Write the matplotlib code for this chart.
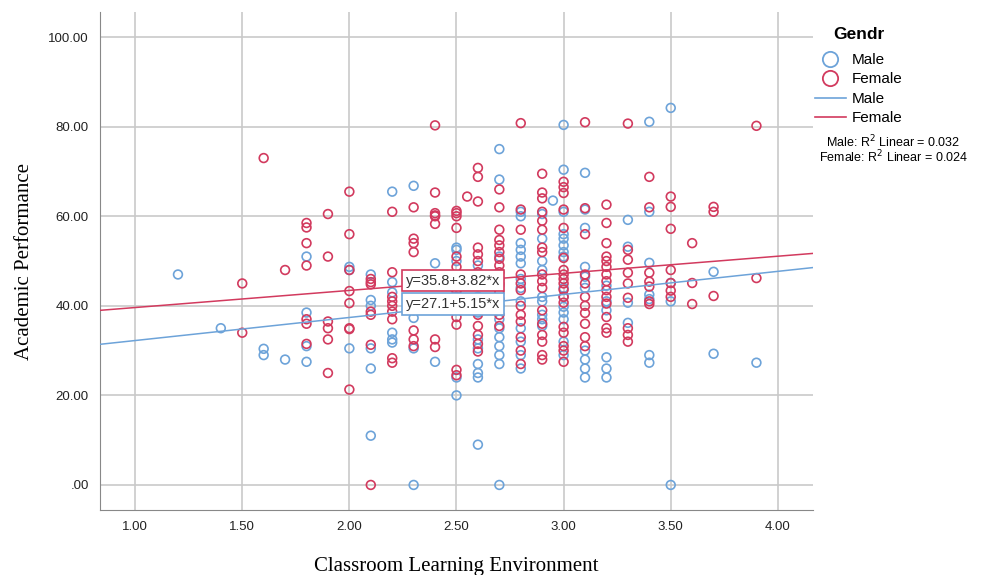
"""Academic performance vs classroom learning environment, split by gender (SPSS style)."""
import matplotlib
matplotlib.use("Agg")
import matplotlib.pyplot as plt
from matplotlib.lines import Line2D

MALE_C = "#6da3d9"
FEMALE_C = "#d23a5e"
GRID_C = "#c9c9c9"

# observed scores per CLE value
male_cols = {
    1.2: [47], 1.4: [35], 1.6: [30.4, 29], 1.7: [28],
    1.8: [51, 38.5, 31, 27.5],
    2.0: [48.7, 48, 30.5],
    2.1: [47, 41.3, 40, 30.5, 26, 11],
    2.2: [65.5, 45.3, 43, 34, 32.5, 31.8],
    2.3: [66.8, 39, 37.3, 30.5, 0],
    2.4: [49.5, 27.5],
    2.5: [53, 52.5, 50, 43, 24, 20],
    2.6: [49, 46, 42, 38.5, 32.5, 30.5, 27, 25, 24, 9],
    2.7: [75, 68.2, 51, 44.5, 40, 37, 35, 33, 31, 29, 27, 0],
    2.8: [61, 60, 54, 52.5, 51, 49.5, 46, 44, 41, 35, 32, 29, 26],
    2.9: [60.5, 55, 50, 48, 42, 41, 38, 37, 35.5],
    2.95: [63.5],
    3.0: [80.4, 70.4, 61, 56, 55, 53.5, 52, 51, 44, 42, 39.8, 38.5, 37, 32, 29],
    3.1: [69.7, 61.5, 57.4, 48.7, 46.5, 44, 30, 28, 26, 24],
    3.2: [44.5, 41, 39, 28.5, 26, 24],
    3.3: [59.2, 53.2, 40.7, 36.2],
    3.4: [81.1, 61, 49.6, 42.5, 41.5, 29, 27.3],
    3.5: [84.2, 45.1, 41, 0],
    3.7: [47.6, 29.3],
    3.9: [27.3],
}
female_cols = {
    1.5: [45, 34], 1.6: [73], 1.7: [48],
    1.8: [58.5, 57.5, 54, 49, 37, 36, 31.5],
    1.9: [60.5, 51, 36.5, 35, 32.5, 25],
    2.0: [65.5, 56, 48, 43.3, 40.6, 35, 34.8, 21.3],
    2.1: [46, 45.3, 44.8, 38.7, 38, 31.3, 0],
    2.2: [61, 47.5, 42, 41, 40, 38.7, 37, 28.3, 27.3],
    2.3: [62, 55, 54, 52, 34.5, 32.5, 31],
    2.4: [80.3, 65.3, 60.7, 60.2, 60, 58.3, 32.5, 30.8],
    2.5: [61.2, 60.7, 60, 57.4, 51, 48.7, 43.5, 42, 37.5, 35.8, 25.7, 24.5],
    2.55: [64.4],
    2.6: [70.8, 68.8, 63.3, 53, 51.5, 50, 47.5, 38, 35.5, 33.5, 31.5, 29.8],
    2.7: [66, 62, 57, 54.7, 53.5, 52, 50.5, 49, 47.5, 46, 45, 43, 41.5, 38, 35.5],
    2.8: [80.8, 61.5, 57, 47, 45, 43.5, 40, 38, 36.5, 33, 30, 27],
    2.9: [69.5, 65.3, 64, 61, 59, 57, 53, 52, 47, 45.5, 44, 39, 36, 33.5, 32, 29, 28],
    3.0: [67.7, 66.5, 65.2, 61.5, 57.4, 50.7, 48, 47, 46, 45, 43.6, 42, 40.7, 35.3, 34, 31, 30, 27.5],
    3.1: [81, 61.8, 56, 47, 45, 42, 40, 38.4, 36, 33, 31],
    3.2: [62.6, 58.5, 54, 51, 50, 48.7, 47, 45.5, 43.5, 42, 40.5, 37.5, 35, 34],
    3.3: [80.7, 52.5, 50.3, 47.4, 45, 41.8, 35, 33.5, 32],
    3.4: [68.8, 62, 47.4, 45.4, 44.3, 41, 40.4],
    3.5: [64.4, 62.1, 57.2, 48, 45.1, 43.4, 42],
    3.6: [54, 45.1, 40.4],
    3.7: [62.1, 61, 42.2],
    3.9: [80.2, 46.2],
}

# fitted lines as reported on the chart
male_fit = (27.1, 5.15)
female_fit = (35.8, 3.82)
male_r2 = 0.032
female_r2 = 0.024

x_ticks = [1.0, 1.5, 2.0, 2.5, 3.0, 3.5, 4.0]
y_ticks = [0, 20, 40, 60, 80, 100]


def flatten(cols):
    xs, ys = [], []
    for x, vals in cols.items():
        xs += [x] * len(vals)
        ys += vals
    return xs, ys


plt.rcParams["font.family"] = ["Liberation Sans", "DejaVu Sans"]

fig = plt.figure(figsize=(9.87, 5.75), dpi=100)
ax = fig.add_axes([0.1013, 0.113, 0.7224, 0.866])

mx, my = flatten(male_cols)
fx, fy = flatten(female_cols)
ax.scatter(mx, my, s=40, facecolors="none", edgecolors=MALE_C, linewidths=1.2, zorder=3)
ax.scatter(fx, fy, s=40, facecolors="none", edgecolors=FEMALE_C, linewidths=1.2, zorder=3)

xlim = (0.836, 4.164)
ax.set_xlim(*xlim)
ax.set_ylim(-5.6, 105.6)

for (b0, b1), c in ((male_fit, MALE_C), (female_fit, FEMALE_C)):
    ax.plot(xlim, [b0 + b1 * xlim[0], b0 + b1 * xlim[1]], color=c, lw=1.1, zorder=4)

ax.set_xticks(x_ticks)
ax.set_xticklabels([f"{v:.2f}" for v in x_ticks])
ax.set_yticks(y_ticks)
ax.set_yticklabels([f"{v:.2f}" if v else ".00" for v in y_ticks])
ax.tick_params(length=0, labelsize=9.5, colors="#222222", pad=8)
ax.grid(True, color=GRID_C, lw=1.2)
ax.set_axisbelow(True)
for side in ("top", "right"):
    ax.spines[side].set_visible(False)
for side in ("left", "bottom"):
    ax.spines[side].set_color("#888888")

ax.set_xlabel("Classroom Learning Environment", family="Liberation Serif", fontsize=15, labelpad=17)
ax.set_ylabel("Academic Performance", family="Liberation Serif", fontsize=15, labelpad=10)

ax.text(2.265, 45.6, f"y={female_fit[0]}+{female_fit[1]:.2f}*x", fontsize=10.5, va="center",
        color="#333333", zorder=6,
        bbox=dict(boxstyle="square,pad=0.25", fc="white", ec=FEMALE_C, lw=1.2))
ax.text(2.265, 40.4, f"y={male_fit[0]}+{male_fit[1]:.2f}*x", fontsize=10.5, va="center",
        color="#333333", zorder=6,
        bbox=dict(boxstyle="square,pad=0.25", fc="white", ec=MALE_C, lw=1.2))

handles = [
    Line2D([], [], ls="none", marker="o", ms=11, mfc="none", mec=MALE_C, mew=1.3),
    Line2D([], [], ls="none", marker="o", ms=11, mfc="none", mec=FEMALE_C, mew=1.3),
    Line2D([], [], color=MALE_C, lw=1.2),
    Line2D([], [], color=FEMALE_C, lw=1.2),
]
leg = fig.legend(handles, ["Male", "Female", "Male", "Female"], title="Gendr",
                 loc="upper left", bbox_to_anchor=(0.815, 0.972), frameon=False,
                 fontsize=11, title_fontsize=12.5, handlelength=2.0, handletextpad=0.4,
                 labelspacing=0.36, borderpad=0.2)
leg.get_title().set_fontweight("bold")
leg._legend_box.sep = 8

fig.text(0.905, 0.753, f"Male: R$^2$ Linear = {male_r2:.3f}", ha="center", va="center", fontsize=9)
fig.text(0.905, 0.727, f"Female: R$^2$ Linear = {female_r2:.3f}", ha="center", va="center", fontsize=9)

fig.savefig("out.png", dpi=100)
